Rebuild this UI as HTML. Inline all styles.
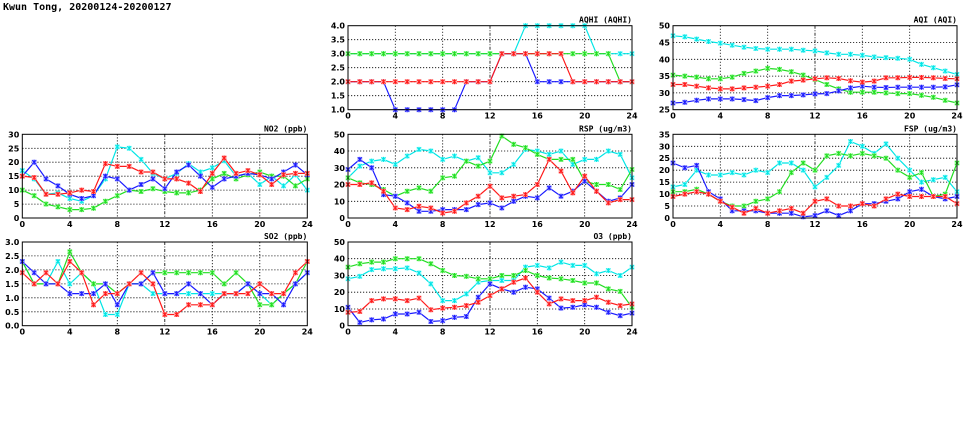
<!DOCTYPE html>
<html><head><meta charset="utf-8"><style>
body{margin:0;background:#fff;width:975px;height:447px;overflow:hidden}
svg{display:block}
text{font-family:"DejaVu Sans","Liberation Sans",sans-serif;font-weight:bold;font-size:8px;fill:#000}
</style></head><body>
<svg id="s" width="975" height="447" xmlns="http://www.w3.org/2000/svg">
<text x="3" y="10" style="font-family:'DejaVu Sans Mono','Liberation Mono',monospace;font-size:10px">Kwun Tong, 20200124-20200127</text>
</svg>
<script>
const C={c:'#00e5e5',g:'#22dd22',b:'#1a1aff',r:'#ff1a1a'};
const L={c:'#b0ffff',g:'#b0ffb0',b:'#b0b0ff',r:'#ffb0b0'};
const P=[
{t:'AQHI (AQHI)',x0:348,x1:632,y0:25.7,y1:109.7,mn:1,mx:4,st:0.5,d:1,s:{
c:[3,3,3,3,3,3,3,3,3,3,3,3,3,3,3,4,4,4,4,4,4,3,3,3,3],
g:[3,3,3,3,3,3,3,3,3,3,3,3,3,3,3,3,3,3,3,3,3,3,3,2,2],
b:[2,2,2,2,1,1,1,1,1,1,2,2,2,3,3,3,2,2,2,2,2,2,2,2,2],
r:[2,2,2,2,2,2,2,2,2,2,2,2,2,3,3,3,3,3,3,2,2,2,2,2,2]}},
{t:'AQI (AQI)',x0:673,x1:957,y0:25.7,y1:109.7,mn:25,mx:50,st:5,d:0,s:{
c:[47,46.7,46,45.3,44.8,44.2,43.6,43.2,43,43,43,42.7,42.5,41.9,41.5,41.5,41.2,40.7,40.5,40.3,40,38.5,37.5,36.5,35.5],
g:[35.3,35,34.7,34.2,34.2,34.7,35.8,36.5,37.3,37,36.3,35.3,34,32.5,31.2,30.2,30.2,30.2,30,29.8,29.8,29.3,28.7,27.8,27],
b:[27,27.2,27.8,28.2,28.2,28.2,28,27.7,28.6,29.2,29.2,29.4,29.7,29.8,30.6,31.5,32,31.7,31.6,31.7,31.7,31.7,31.7,31.8,32.4],
r:[32.5,32.5,32,31.5,31.2,31.2,31.5,31.7,32,32.5,33.5,33.8,34.2,34.5,34.3,33.6,33.2,33.5,34.5,34.5,34.6,34.6,34.5,34.3,34.2]}},
{t:'NO2 (ppb)',x0:22.3,x1:307.3,y0:134.3,y1:218,mn:0,mx:30,st:5,d:0,s:{
c:[17,14,8.5,9,7,6,8,14,25.5,25,21,16,14,16,19.5,16.5,18,20.5,15,16,12,15,11.5,15.5,10],
g:[10,8,5,4,3,3,3.5,6,8,10,9.5,10.5,9.5,9,9,10,14,16,14,15.5,16.5,15,15,11.5,14],
b:[15,20,14,11.5,8.5,7,8,15,14,10,12,14,10.5,16.5,19,15,11,14,15,16,15.5,14,16.5,19,15.5],
r:[15,14.5,8.5,8.5,9,10,9.5,19.5,18.5,18.5,16.5,16.5,14,14,12.5,9.5,16,21.5,16,17,15.5,12,15.5,16,16]}},
{t:'RSP (ug/m3)',x0:348,x1:632,y0:134.3,y1:218,mn:0,mx:50,st:10,d:0,s:{
c:[24,31,34,35,32,37,41,40,35,37,34,36,27,27,32,41,40,38,40,32,35,35,40,38,24],
g:[24,21,20,17,13,16,18,16,24,25,34,31,34,49,44,42,38,35,35,35,22,20,20,17,29],
b:[29,35,30,14,13,9,4,4,5,5,5,8,9,6,10,13,12,18,13,16,22,16,10,12,20],
r:[20,20,21,16,6,5,7,6,3,4,9,13,19,12,13,14,20,35,28,15,25,16,9,11,11]}},
{t:'FSP (ug/m3)',x0:673,x1:957,y0:134.3,y1:218,mn:0,mx:35,st:5,d:0,s:{
c:[13,14,20,18,18,19,18,20,19,23,23,20,13,17,22,32,30,27,31,25,20,15,16,17,11],
g:[11,11,12,10,7,5,5,7,8,11,19,23,20,26,27,26,27,26,25,20,17,19,9,10,23],
b:[23,21,22,11,8,3,3,3,2,2,2,0.5,1,3,1,3,6,6,7,8,11,12,9,8,9],
r:[9,10,11,10,7,4.5,2,4,2,3,4,2,7,8,5,5,6,5,8,10,9,9,9,9,6]}},
{t:'SO2 (ppb)',x0:22.3,x1:307.3,y0:242,y1:325.7,mn:0,mx:3,st:0.5,d:1,s:{
c:[2.3,1.5,1.5,2.3,1.5,1.9,1.5,0.4,0.4,1.5,1.5,1.15,1.15,1.15,1.15,1.15,1.15,1.15,1.15,1.5,1.15,0.75,1.15,1.5,1.9],
g:[2.3,1.5,1.5,1.5,2.65,1.9,1.5,1.5,1.15,1.5,1.5,1.9,1.9,1.9,1.9,1.9,1.9,1.5,1.9,1.5,0.75,0.75,1.15,1.5,2.3],
b:[2.3,1.9,1.5,1.5,1.15,1.15,1.15,1.5,0.75,1.5,1.5,1.9,1.15,1.15,1.5,1.15,0.75,1.15,1.15,1.5,1.15,1.15,0.75,1.5,1.9],
r:[1.9,1.5,1.9,1.5,2.3,1.9,0.75,1.15,1.15,1.5,1.9,1.5,0.4,0.4,0.75,0.75,0.75,1.15,1.15,1.15,1.5,1.15,1.15,1.9,2.3]}},
{t:'O3 (ppb)',x0:348,x1:632,y0:242,y1:325.7,mn:0,mx:50,st:10,d:0,s:{
c:[28,29.5,33.5,34,34,34.5,31.5,25,15,15,19,26,27,27,27,35,36,34.5,38,36,36,31,33,30,35],
g:[35,37,38,38,40,40,40,37,33,30,29.5,28,28,30,30,33,30,28.5,28,27,25.5,25.5,22,20.5,11],
b:[11,2,3.5,4,7,7,8,2.5,3,5,5.5,17,25,22,20,23,22,16.5,10.5,11,12.5,11,8,6,7.5],
r:[8,8.5,15,16,16,15,16.5,9.5,10.5,11,12,14,18,22,26,28.5,20,13,16,15,15,17,14,12,13]}}
];
let h='';
for(const p of P){
 const X=i=>p.x0+(p.x1-p.x0)*i/24, Y=v=>p.y1-(p.y1-p.y0)*(v-p.mn)/(p.mx-p.mn);
 for(let v=p.mn+p.st;v<p.mx-1e-9;v+=p.st){const y=Y(v).toFixed(1);h+=`<line x1="${p.x0}" x2="${p.x1}" y1="${y}" y2="${y}" stroke="#000" stroke-width="0.8" stroke-dasharray="1.2,1.8"/>`;}
 for(let i=4;i<24;i+=4){const x=X(i).toFixed(1);h+=`<line x1="${x}" x2="${x}" y1="${p.y0}" y2="${p.y1}" stroke="#000" stroke-width="0.8" stroke-dasharray="${i==12?'3,1.5,1,1.5':'1.2,1.8'}"/>`;}
 for(const k of ['c','g','b','r']){
  const a=p.s[k];
  h+=`<polyline fill="none" stroke="${C[k]}" stroke-width="1.2" points="${a.map((v,i)=>X(i).toFixed(1)+','+Y(v).toFixed(1)).join(' ')}"/>`;
  a.forEach((v,i)=>{const x=X(i),y=Y(v);h+=`<rect x="${(x-2.5).toFixed(1)}" y="${(y-2.5).toFixed(1)}" width="5" height="5" fill="${L[k]}"/><path d="M${x-2},${y-2}L${x+2},${y+2}M${x-2},${y+2}L${x+2},${y-2}M${x},${y-2.5}V${y+2.5}" stroke="${C[k]}" stroke-width="1"/>`;});
 }
 h+=`<rect x="${p.x0}" y="${p.y0}" width="${p.x1-p.x0}" height="${p.y1-p.y0}" fill="none" stroke="#000" stroke-width="1"/>`;
 for(let v=p.mn;v<=p.mx+1e-9;v+=p.st){h+=`<text x="${p.x0-3}" y="${(Y(v)+3).toFixed(1)}" text-anchor="end">${v.toFixed(p.d)}</text>`;}
 for(let i=0;i<=24;i+=4){h+=`<text x="${X(i).toFixed(1)}" y="${p.y1+9}" text-anchor="middle">${i}</text>`;}
 h+=`<text x="${p.x1}" y="${p.y0-3}" text-anchor="end" style="font-family:'DejaVu Sans Mono','Liberation Mono',monospace;font-size:8px">${p.t}</text>`;
}
document.getElementById('s').insertAdjacentHTML('beforeend',h);
</script>
</body></html>
